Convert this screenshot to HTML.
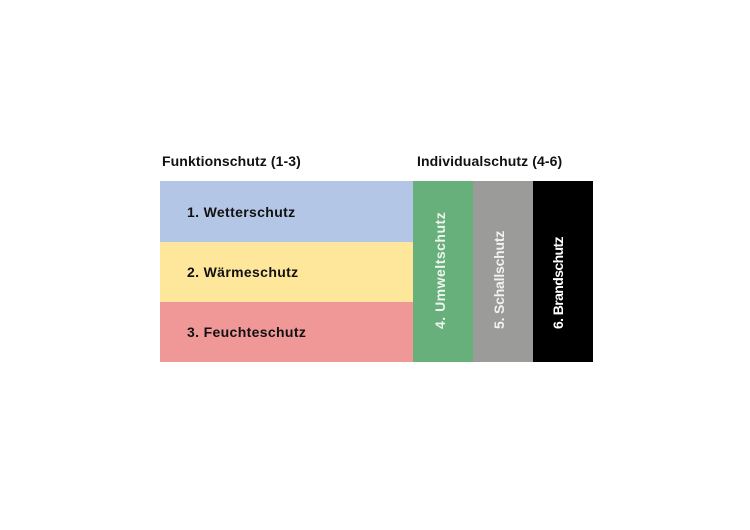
<!DOCTYPE html>
<html><head><meta charset="utf-8"><style>
body{margin:0;width:750px;height:530px;background:#fff;position:relative;overflow:hidden;font-family:"Liberation Sans","DejaVu Sans",sans-serif;font-weight:bold;}
.b{position:absolute}
.h{position:absolute;font-size:14px;line-height:16px;color:#111;letter-spacing:0.1px}
.l{position:absolute;font-size:14px;line-height:16px;color:#111;left:187px;letter-spacing:0.35px}
.v{position:absolute;font-size:14px;line-height:16px;transform-origin:0 0;transform:rotate(-90deg);white-space:nowrap;letter-spacing:0.5px}
</style></head><body>
<div class="h" style="left:162px;top:153px">Funktionschutz (1-3)</div>
<div class="h" style="left:417px;top:153px">Individualschutz (4-6)</div>
<div class="b" style="left:160px;top:181px;width:253px;height:61px;background:#b4c6e6"></div>
<div class="b" style="left:160px;top:242px;width:253px;height:60px;background:#fee69b"></div>
<div class="b" style="left:160px;top:302px;width:253px;height:60px;background:#f09797"></div>
<div class="b" style="left:413px;top:181px;width:60px;height:181px;background:#67b07b"></div>
<div class="b" style="left:473px;top:181px;width:60px;height:181px;background:#9b9b99"></div>
<div class="b" style="left:533px;top:181px;width:60px;height:181px;background:#000"></div>
<div class="l" style="top:204px">1. Wetterschutz</div>
<div class="l" style="top:264px">2. Wärmeschutz</div>
<div class="l" style="top:324px">3. Feuchteschutz</div>
<div class="v" style="left:432px;top:329px;color:#eef5ee">4. Umweltschutz</div>
<div class="v" style="left:491px;top:329px;color:#f2f2f2;letter-spacing:-0.2px">5. Schallschutz</div>
<div class="v" style="left:550px;top:329px;color:#fff;letter-spacing:-0.6px">6. Brandschutz</div>
</body></html>
